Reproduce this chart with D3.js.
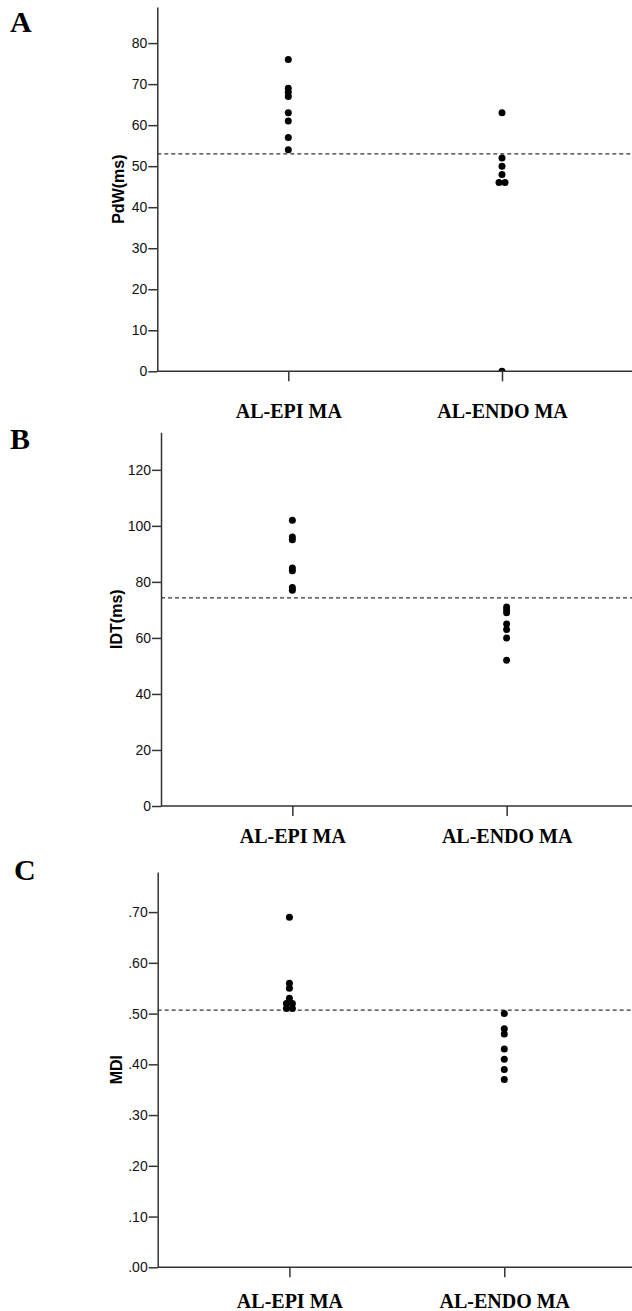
<!DOCTYPE html>
<html>
<head>
<meta charset="utf-8">
<script src="https://cdn.jsdelivr.net/npm/d3@7"></script>
<style>
  body { margin: 0; background: #fff; overflow: hidden; }
  svg { display: block; overflow: hidden; }
</style>
</head>
<body>
<div id="chart"></div>
<script>
"use strict"

// categories on the x axis (same for all three panels)
const categories = ["AL-EPI MA", "AL-ENDO MA"];

// A: PdW (ms)
const pdwEpi = [76, 69, 68, 67, 63, 61, 57, 54];
const pdwEndo = [63, 52, 50, 48, 46, 46, 0];
const pdwCutoff = 53;
const pdwTicks = [0, 10, 20, 30, 40, 50, 60, 70, 80];
const pdwTickLabels = ["0", "10", "20", "30", "40", "50", "60", "70", "80"];

// B: IDT (ms)
const idtEpi = [102, 96, 95, 85, 84, 78, 77];
const idtEndo = [71, 70, 69, 65, 63, 60, 52];
const idtCutoff = 74.3;
const idtTicks = [0, 20, 40, 60, 80, 100, 120];
const idtTickLabels = ["0", "20", "40", "60", "80", "100", "120"];

// C: MDI
const mdiEpi = [0.69, 0.56, 0.55, 0.53, 0.52, 0.52, 0.51, 0.51];
const mdiEndo = [0.50, 0.47, 0.46, 0.43, 0.41, 0.39, 0.37];
const mdiCutoff = 0.507;
const mdiTicks = [0, 0.1, 0.2, 0.3, 0.4, 0.5, 0.6, 0.7];
const mdiTickLabels = [".00", ".10", ".20", ".30", ".40", ".50", ".60", ".70"];


const W = 632, H = 1311;
const serif = "'Liberation Serif', 'Times New Roman', serif";
const sans = "'Liberation Sans', Arial, sans-serif";
const ink = "#333";

const panels = [
  {letter: "A", letterX: 10, letterY: 32, title: "PdW(ms)", titleX: 124,
   axisX: 157.3, top: 7, bottom: 371.3, max: 88.8, right: 633, labelPad: 23,
   ticks: pdwTicks, tickLabels: pdwTickLabels,
   series: [pdwEpi, pdwEndo], cutoff: pdwCutoff},
  {letter: "B", letterX: 10, letterY: 449, title: "IDT(ms)", titleX: 122,
   axisX: 161, top: 432.3, bottom: 806, max: 133.4, right: 638, labelPad: 13,
   ticks: idtTicks, tickLabels: idtTickLabels,
   series: [idtEpi, idtEndo], cutoff: idtCutoff},
  {letter: "C", letterX: 14, letterY: 880, title: "MDI", titleX: 122,
   axisX: 157.7, top: 872, bottom: 1267.3, max: 0.779, right: 636, labelPad: 17,
   ticks: mdiTicks, tickLabels: mdiTickLabels,
   series: [mdiEpi, mdiEndo], cutoff: mdiCutoff},
];

let svg = (
  d3.select("#chart")
    .append("svg")
    .attr("width", W)
    .attr("height", H));

// equal values in one column sit side by side
function spread(values, cat) {
  let seen = {};
  let counts = d3.rollup(values, (v) => v.length, (v) => v);
  return values.map((v) => {
    let n = counts.get(v);
    let k = seen[v] = (seen[v] ?? -1) + 1;
    return {cat: cat, value: v, dx: (k - (n - 1) / 2) * 6};
  });
}

let defs = svg.append("defs");

panels.forEach((p, pi) => {
  let y = d3.scaleLinear().domain([0, p.max]).range([p.bottom, p.top]);
  let x = d3.scalePoint().domain(categories).range([p.axisX, p.right]).padding(0.613);

  let g = svg.append("g");

  // panel letter
  (g.append("text")
    .attr("x", p.letterX)
    .attr("y", p.letterY)
    .attr("style", `font: bold 30px ${serif}; fill: #000`)
    .text(p.letter));

  // y axis title
  (g.append("text")
    .attr("transform", `translate(${p.titleX},${(p.top + p.bottom) / 2}) rotate(-90)`)
    .attr("text-anchor", "middle")
    .attr("style", `font: bold 16px ${sans}; fill: #000`)
    .text(p.title));

  // reference line
  (g.append("line")
    .attr("x1", p.axisX)
    .attr("x2", W)
    .attr("y1", y(p.cutoff))
    .attr("y2", y(p.cutoff))
    .attr("stroke", ink)
    .attr("stroke-width", 1.3)
    .attr("stroke-dasharray", "4,3"));

  // points, clipped so nothing shows below the x axis
  let clipId = `clip${pi}`;
  (defs.append("clipPath")
    .attr("id", clipId)
    .append("rect")
      .attr("x", 0)
      .attr("y", p.top - 20)
      .attr("width", W + 20)
      .attr("height", p.bottom - p.top + 20));

  let pts = spread(p.series[0], categories[0]).concat(spread(p.series[1], categories[1]));
  (g.append("g")
    .attr("clip-path", `url(#${clipId})`)
    .selectAll("circle")
      .data(pts)
    .enter()
      .append("circle")
        .attr("cx", (d) => x(d.cat) + d.dx)
        .attr("cy", (d) => y(d.value))
        .attr("r", 3.5)
        .attr("fill", "#000"));

  // y axis
  let ya = (g.append("g")
    .attr("transform", `translate(${p.axisX},0)`)
    .call(d3.axisLeft(y)
      .tickValues(p.ticks)
      .tickFormat((d, i) => p.tickLabels[i])
      .tickSize(9)
      .tickPadding(1)
      .tickSizeOuter(0)));
  ya.select(".domain").attr("stroke", ink).attr("stroke-width", 1.5);
  ya.selectAll(".tick line").attr("stroke", ink).attr("stroke-width", 1.5);
  ya.selectAll(".tick text")
    .attr("style", `font: 14px ${sans}; fill: #111`);

  // x axis
  let xa = (g.append("g")
    .attr("transform", `translate(0,${p.bottom})`)
    .call(d3.axisBottom(x)
      .tickSize(10)
      .tickPadding(p.labelPad)
      .tickSizeOuter(0)));
  xa.select(".domain")
    .attr("d", `M${p.axisX},0H${W}`)
    .attr("stroke", ink)
    .attr("stroke-width", 1.5);
  xa.selectAll(".tick line").attr("stroke", ink).attr("stroke-width", 1.5);
  xa.selectAll(".tick text")
    .attr("style", `font: bold 20px ${serif}; fill: #000`);
});
</script>
</body>
</html>
